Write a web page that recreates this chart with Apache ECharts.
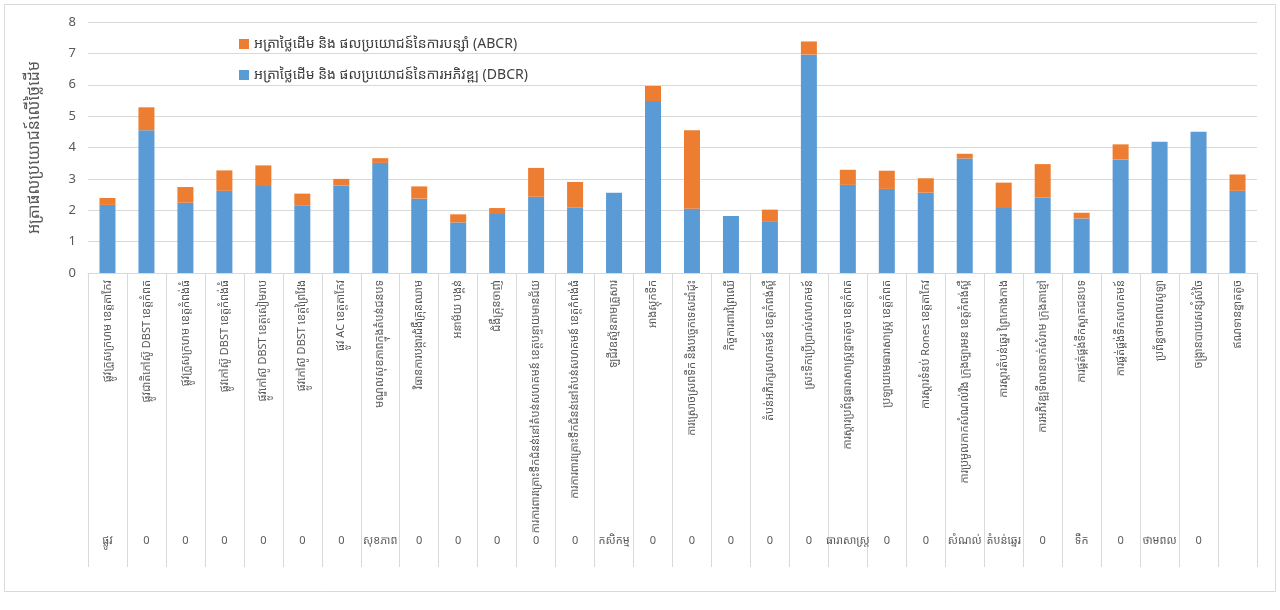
<!DOCTYPE html>
<html>
<head>
<meta charset="utf-8">
<script src="https://cdn.jsdelivr.net/npm/echarts@6/dist/echarts.min.js"></script>
<style>
html,body{margin:0;padding:0;background:#fff;}
#c{width:1280px;height:610px;}
</style>
</head>
<body>
<div id="c"></div>
<script>
var categories = [
  "ផ្លូវក្រួសក្រហម ខេត្តតាកែវ",
  "ផ្លូវជាតិកៅស៊ូ DBST ខេត្តកំពត",
  "ផ្លូវក្រួសក្រហម ខេត្តកំពង់ធំ",
  "ផ្លូវកៅស៊ូ DBST ខេត្តកំពង់ធំ",
  "ផ្លូវកៅស៊ូ DBST ខេត្តសៀមរាប",
  "ផ្លូវកៅស៊ូ DBST ខេត្តព្រៃវែង",
  "ផ្លូវ AC ខេត្តតាកែវ",
  "មណ្ឌលសុខភាពក្នុងតំបន់ជនបទ",
  "វិធានការបង្ការជំងឺគ្រុនឈាម",
  "អនាម័យ បង្គន់",
  "ជំងឺគ្រុនចាញ់",
  "ការការពារគ្រោះទឹកជំនន់នៅតំបន់សហគមន៍ ខេត្តបន្ទាយមានជ័យ",
  "ការការពារគ្រោះទឹកជំនន់នៅតំបន់សហគមន៍ ខេត្តកំពង់ធំ",
  "ឡជីវឧស្ម័នតាមគ្រួសារ",
  "អាងស្តុកទឹក",
  "ការស្រោចស្រពទឹក និងបច្ចេកទេសដាំដុះ",
  "កិច្ចការពារព្រៃឈើ",
  "តំបន់អភិរក្សសហគមន៍ ខេត្តកំពង់ស្ពឺ",
  "ស្រះទឹកប្រើប្រាស់សហគមន៍",
  "ការស្តារប្រព័ន្ធធារាសាស្ត្រខ្នាតតូច ខេត្តកំពត",
  "ប្រឡាយមេធារាសាស្ត្រ ខេត្តកំពត",
  "ការស្តារទំនប់ Rones ខេត្តតាកែវ",
  "ការប្រមូលកាកសំណល់រឹង ក្រុងច្បារមន ខេត្តកំពង់ស្ពឺ",
  "ការស្តារតំបន់ឆ្នេរ ព្រៃកោងកាង",
  "ការអភិវឌ្ឍទីលានចាក់សំរាម ក្រុងតាខ្មៅ",
  "ការផ្គត់ផ្គង់ទឹកស្អាតជនបទ",
  "ការផ្គត់ផ្គង់ទឹកសហគមន៍",
  "ប្រព័ន្ធថាមពលសូឡា",
  "ចង្ក្រានបាយសន្សំសំចៃ",
  "ឥណទានខ្នាតតូច"
];
var groups = ["ផ្លូវ","0","0","0","0","0","0","សុខភាព","0","0","0","0","0","កសិកម្ម","0","0","0","0","0","ធារាសាស្ត្រ","0","0","សំណល់","តំបន់ឆ្នេរ","0","ទឹក","0","ថាមពល","0",""];
var dbcr = [2.17,4.55,2.24,2.62,2.77,2.16,2.79,3.51,2.37,1.61,1.88,2.43,2.08,2.56,5.48,2.05,1.82,1.63,6.96,2.81,2.68,2.56,3.65,2.07,2.40,1.74,3.62,4.18,4.50,2.62];
var abcrExtra = [0.22,0.73,0.50,0.65,0.66,0.37,0.21,0.15,0.39,0.26,0.19,0.92,0.82,0,0.48,2.50,0,0.39,0.42,0.48,0.58,0.46,0.15,0.81,1.07,0.18,0.48,0,0,0.52];
var yTicks = [0,1,2,3,4,5,6,7,8];
var seriesNames = ["អត្រាថ្លៃដើម និង ផលប្រយោជន៍នៃការបន្សាំ (ABCR)","អត្រាថ្លៃដើម និង ផលប្រយោជន៍នៃការអភិវឌ្ឍ (DBCR)"];

var FONT = "'Noto Sans Khmer','Khmer OS','Noto Sans','DejaVu Sans',sans-serif";
var chart = echarts.init(document.getElementById('c'));
chart.setOption({
  backgroundColor:'#fff',
  textStyle:{fontFamily:FONT},
  animation:false,
  graphic:[{type:'rect',shape:{x:4.5,y:4.5,width:1271,height:587},style:{fill:'none',stroke:'#d9d9d9',lineWidth:1}}],
  legend:{
    orient:'vertical', left:234, top:32, itemWidth:10, itemHeight:10, itemGap:17,
    icon:'rect',
    data:[seriesNames[0],seriesNames[1]],
    textStyle:{fontSize:14,color:'#404040',fontFamily:FONT}
  },
  grid:{left:88,right:23,top:22,bottom:337},
  xAxis:[{
    type:'category', data:categories, boundaryGap:true,
    axisLine:{lineStyle:{color:'#d9d9d9'}},
    axisTick:{show:true,interval:0,length:294,lineStyle:{color:'#d9d9d9'}},
    axisLabel:{interval:0,rotate:90,margin:7,fontSize:11,color:'#595959',fontFamily:FONT}
  },{
    type:'category', data:groups, position:'bottom', offset:258, gridIndex:0,
    axisLine:{show:false}, axisTick:{show:false},
    axisLabel:{interval:0,margin:4,fontSize:11,color:'#595959',fontFamily:FONT}
  }],
  yAxis:{
    type:'value', min:yTicks[0], max:yTicks[yTicks.length-1], interval:1,
    name:'អត្រាផលប្រយោជន៍លើថ្លៃដើម', nameLocation:'middle', nameGap:46,
    nameTextStyle:{fontSize:16,color:'#595959',fontFamily:FONT},
    axisLine:{show:false}, axisTick:{show:false},
    axisLabel:{fontSize:13,color:'#595959',margin:12},
    splitLine:{lineStyle:{color:'#d9d9d9'}}
  },
  series:[{
    name:seriesNames[1], type:'bar', stack:'s', data:dbcr, barWidth:16,
    itemStyle:{color:'#5B9BD5'}
  },{
    name:seriesNames[0], type:'bar', stack:'s', data:abcrExtra, barWidth:16,
    itemStyle:{color:'#ED7D31'}
  }]
});
</script>
</body>
</html>
